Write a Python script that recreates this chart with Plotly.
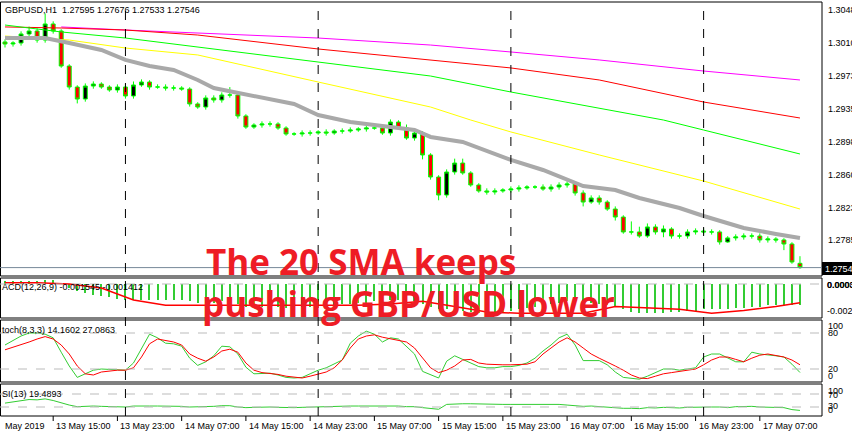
import plotly.graph_objects as go

W, H = 852, 437

# ---------------- data ----------------
idx = list(range(100))
closes = [1.30093,1.30104,1.30207,1.30241,1.30138,1.30321,1.30241,1.29842,1.29603,1.29466,
          1.29614,1.29637,1.29603,1.29569,1.29603,1.29501,1.29626,1.29660,1.29603,1.29603,
          1.29592,1.29592,1.29580,1.29410,1.29375,1.29478,1.29455,1.29512,1.29512,1.29273,
          1.29147,1.29170,1.29182,1.29182,1.29136,1.29068,1.29068,1.29079,1.29079,1.29091,
          1.29079,1.29102,1.29102,1.29113,1.29125,1.29136,1.29136,1.29079,1.29204,1.29136,
          1.29022,1.29079,1.28829,1.28578,1.28373,1.28635,1.28737,1.28624,1.28487,1.28419,
          1.28407,1.28419,1.28430,1.28441,1.28453,1.28464,1.28464,1.28441,1.28464,1.28487,
          1.28498,1.28396,1.28293,1.28339,1.28293,1.28213,1.28122,1.27952,1.27952,1.27906,
          1.28009,1.27952,1.27986,1.27906,1.27906,1.27952,1.27963,1.27952,1.27952,1.27838,
          1.27884,1.27895,1.27906,1.27906,1.27861,1.27872,1.27861,1.27815,1.27610,1.27546]
first_open = 1.30116
last_open = 1.27595
up_wick = [3,2,3,5,3,12,3,2,2,2, 3,3,2,2,3,3,4,3,2,3, 3,3,2,2,2,3,3,3,9,2,
           2,2,3,3,2,2,2,3,3,2, 3,2,3,3,2,3,3,3,3,2, 4,3,2,2,2,3,5,5,2,2,
           3,3,2,3,3,2,2,3,3,3, 3,2,3,3,3,2,3,2,12,6, 4,3,4,2,3,3,3,3,3,2,
           2,3,3,3,3,3,2,2,2,8]
dn_wick = [4,3,3,3,3,3,3,2,3,5, 3,3,2,2,3,3,3,2,3,2, 3,3,2,3,2,3,3,3,3,3,
           2,2,3,3,2,2,2,3,3,2, 3,2,3,2,2,3,2,2,3,2, 2,3,5,3,6,3,3,2,2,2,
           3,3,2,3,3,2,2,2,3,3, 3,3,5,2,3,2,4,2,3,2, 2,3,6,3,3,3,3,3,3,3,
           1,3,3,3,3,3,3,7,2,1]

sma20_i = [0,5,8,12,15,18,21,24,26,28,32,36,39,43,47,51,53,57,63,67,72,76,79,84,87,92,96,99]
sma20_v = [1.30161,1.30161,1.30104,1.30025,1.29911,1.29842,1.29797,1.29683,1.29592,1.29557,
           1.29478,1.29409,1.29284,1.29204,1.29159,1.29113,1.29034,1.28977,1.28772,1.28658,
           1.28475,1.28430,1.28339,1.28225,1.28134,1.27997,1.27929,1.27884]
yel_i = [0,8,15,24,39,53,58,63,74,87,99]
yel_v = [1.30184,1.30138,1.30047,1.29968,1.29660,1.29375,1.29227,1.29091,1.28829,1.28532,1.28213]
grn_i = [0,7,15,24,39,53,63,74,82,87,99]
grn_v = [1.30309,1.30230,1.30161,1.30059,1.29888,1.29728,1.29546,1.29364,1.29227,1.29113,1.28840]
red_i = [0,7,15,24,39,53,63,74,87,99]
red_v = [1.30287,1.30275,1.30252,1.30195,1.30036,1.29911,1.29820,1.29683,1.29432,1.29250]
mag_i = [7,15,39,53,63,74,87,99]
mag_v = [1.30287,1.30252,1.30161,1.30081,1.30002,1.29911,1.29785,1.29683]

macd_hist = [0.0002,0.0002,0.0002,0.0002,0.0002,0.0003,0.0003,0.0000,-0.0003,-0.0005,
             -0.0007,-0.0008,-0.0009,-0.0010,-0.0011,-0.0012,-0.0012,-0.0012,-0.0012,-0.0012,
             -0.0012,-0.0012,-0.0012,-0.0013,-0.0014,-0.0014,-0.0014,-0.0013,-0.0013,-0.0015,
             -0.0017,-0.0017,-0.0017,-0.0017,-0.0017,-0.0018,-0.0018,-0.0017,-0.0017,-0.0016,
             -0.0016,-0.0016,-0.0015,-0.0015,-0.0014,-0.0014,-0.0013,-0.0013,-0.0012,-0.0012,
             -0.0012,-0.0013,-0.0015,-0.0017,-0.0019,-0.0019,-0.0019,-0.0020,-0.0021,-0.0022,
             -0.0022,-0.0022,-0.0021,-0.0020,-0.0019,-0.0018,-0.0017,-0.0016,-0.0015,-0.0014,
             -0.0013,-0.0013,-0.0014,-0.0014,-0.0015,-0.0016,-0.0017,-0.0019,-0.0021,-0.0022,
             -0.0022,-0.0022,-0.0022,-0.0021,-0.0021,-0.0020,-0.0020,-0.0019,-0.0019,-0.0019,
             -0.0019,-0.0018,-0.0018,-0.0017,-0.0017,-0.0016,-0.0016,-0.0016,-0.0016,-0.001545]
sig_i = [0,4,8,12,16,20,24,28,32,36,40,44,48,52,56,60,64,68,72,76,80,84,88,92,96,99]
sig_v = [0.0001,0.0001,0.0000,-0.0003,-0.0012,-0.0016,-0.0016,-0.0016,-0.0016,-0.0016,
         -0.0016,-0.0016,-0.0015,-0.0013,-0.0017,-0.0021,-0.0022,-0.0022,-0.0022,-0.0017,
         -0.0018,-0.0019,-0.0022,-0.0020,-0.0017,-0.001412]

stoch_main = [60,68,75,80,80,78,72,48,25,6, 12,18,20,19,18,18,30,55,78,72,
              63,62,58,38,26,32,42,58,57,45, 23,12,12,13,10,6,5,6,12,18,
              22,28,35,63,75,83,78,65,72,70, 58,45,16,10,5,33,42,36,30,24,
              22,22,24,24,26,30,38,50,60,72, 78,60,34,34,34,27,15,6,4,3,
              8,14,20,20,18,20,22,40,45,45, 38,32,32,48,45,44,42,40,28,14.16]
stoch_sig = [52,56,60,65,70,74,70,60,45,25, 12,10,15,17,18,18,22,40,62,70,
             68,65,60,45,38,33,40,50,53,48, 30,18,14,13,11,8,6,5,8,12,
             15,22,35,55,70,75,77,73,70,68, 65,55,38,22,14,18,25,35,36,30,
             28,27,27,27,27,28,32,45,55,65, 72,65,55,45,38,32,25,18,10,5,
             4,8,12,14,16,18,20,27,35,40, 40,36,32,38,43,45,42,40,35,27.09]
rsi = [42,45,50,53,52,55,50,42,36,31, 33,33,32,31,32,30,33,34,33,33,
       33,33,32,30,30,32,32,34,34,30, 28,29,30,30,29,28,28,29,30,31,
       32,32,32,33,33,33,33,32,34,33, 31,31,28,25,23,38,40,40,40,39,
       38,38,38,38,38,38,40,40,40,38, 36,34,32,33,31,30,28,26,26,25,
       28,27,29,27,27,29,30,30,30,30, 28,31,32,32,30,30,30,28,22,19.49]

price_ticks = [1.30480,1.30105,1.29730,1.29355,1.28980,1.28605,1.28230,1.27855]
time_tick_i = [6,14,22,30,38,46,54,62,70,78,86,94]
time_tick_lbl = ["13 May 15:00","13 May 23:00","14 May 07:00","14 May 15:00","14 May 23:00",
                 "15 May 07:00","15 May 15:00","15 May 23:00","16 May 07:00","16 May 15:00",
                 "16 May 23:00","17 May 07:00"]
day_sep_i = [15,39,63,87]

opens = [first_open] + closes[:-1]
opens[-1] = last_open
highs = [max(o, c) + u * 0.0001 for o, c, u in zip(opens, closes, up_wick)]
lows = [min(o, c) - d * 0.0001 for o, c, d in zip(opens, closes, dn_wick)]
highs[-1], lows[-1] = 1.27676, 1.27533

# ---------------- layout helpers ----------------
XR = 822 / W
def py(y): return 1 - y / H
def px(x): return x / W

FONT = "Liberation Sans"
fig = go.Figure()

fig.add_trace(go.Candlestick(
    x=idx, open=opens, high=highs, low=lows, close=closes, xaxis="x", yaxis="y",
    increasing=dict(line=dict(color="#00ff00", width=1), fillcolor="black"),
    decreasing=dict(line=dict(color="#00ff00", width=1), fillcolor="#ff0000"),
    whiskerwidth=0, showlegend=False, hoverinfo="skip"))
for xi, yv, col, w in [(mag_i, mag_v, "#ff00ff", 1), (red_i, red_v, "#ff0000", 1),
                       (grn_i, grn_v, "#00ff00", 1), (yel_i, yel_v, "#ffff00", 1),
                       (sma20_i, sma20_v, "#a9a9a9", 4)]:
    fig.add_trace(go.Scatter(x=xi, y=yv, mode="lines", line=dict(color=col, width=w),
                             xaxis="x", yaxis="y", showlegend=False, hoverinfo="skip"))

fig.add_trace(go.Bar(x=idx, y=macd_hist, width=0.14, marker=dict(color="#33cc33", line=dict(width=0)),
                     xaxis="x", yaxis="y2", showlegend=False, hoverinfo="skip"))
fig.add_trace(go.Scatter(x=sig_i, y=sig_v, mode="lines", line=dict(color="#ff0000", width=1.5),
                         xaxis="x", yaxis="y2", showlegend=False, hoverinfo="skip"))
fig.add_trace(go.Scatter(x=idx, y=stoch_main, mode="lines", line=dict(color="#32cd32", width=1),
                         xaxis="x", yaxis="y3", showlegend=False, hoverinfo="skip"))
fig.add_trace(go.Scatter(x=idx, y=stoch_sig, mode="lines", line=dict(color="#ff0000", width=1),
                         xaxis="x", yaxis="y3", showlegend=False, hoverinfo="skip"))
fig.add_trace(go.Scatter(x=idx, y=rsi, mode="lines", line=dict(color="#32cd32", width=1),
                         xaxis="x", yaxis="y4", showlegend=False, hoverinfo="skip"))

step = 8.03
x0 = -5 / step
x1 = (822 - 5) / step
def ix(i): return px(5 + step * i)

shapes = []
for top, bot in [(2, 276), (278, 318), (320, 382), (384, 416)]:
    shapes.append(dict(type="rect", xref="paper", yref="paper", x0=px(0.5), x1=XR,
                       y0=py(bot), y1=py(top), line=dict(color="black", width=1)))
for yr, v in [("y2", 0), ("y3", 80), ("y3", 20), ("y4", 70), ("y4", 30)]:
    shapes.append(dict(type="line", xref="x", yref=yr, x0=x0, x1=x1, y0=v, y1=v,
                       line=dict(color="#bbbbbb", width=1, dash="dash")))
shapes.append(dict(type="line", xref="x", yref="y", x0=x0, x1=x1, y0=closes[-1], y1=closes[-1],
                   line=dict(color="#778899", width=1)))
for i in day_sep_i:
    shapes.append(dict(type="line", xref="paper", yref="paper", x0=ix(i), x1=ix(i),
                       y0=py(416), y1=py(2), line=dict(color="black", width=1, dash="dash")))
for i in time_tick_i:
    shapes.append(dict(type="line", xref="paper", yref="paper", x0=ix(i), x1=ix(i),
                       y0=py(421), y1=py(416), line=dict(color="black", width=1)))
shapes.append(dict(type="rect", xref="paper", yref="paper", x0=px(822), x1=px(852),
                   y0=py(275), y1=py(262), fillcolor="black", line=dict(width=0)))

ann = []
def text(x, y, s, size=9, color="black", anchor="left", bold=False, fam=FONT):
    ann.append(dict(xref="paper", yref="paper", x=px(x), y=py(y), text=s, showarrow=False,
                    xanchor=anchor, yanchor="middle",
                    font=dict(family=fam, size=size, color=color, weight=700 if bold else 400)))

text(3, 10, "GBPUSD,H1  1.27595 1.27676 1.27533 1.27546", 9)
text(0, 287, "ACD(12,26,9) -0.001545 -0.001412", 9)
text(0, 330, "toch(8,3,3) 14.1602 27.0863", 9)
text(0, 394, "SI(13) 19.4893", 9)
for p in price_ticks:
    yp = (1.30594 - p) / 0.0001139
    text(826, yp, f"{p:.5f}", 9)
text(823, 268.5, f"{closes[-1]:.5f}", 9, color="white")
text(825, 285, "0.00032", 9, bold=True)
text(825, 285, "0.00000", 9)
text(825, 311, "-0.00231", 9)
text(826, 326, "100", 9); text(826, 333, "80", 9); text(826, 369, "20", 9); text(826, 376, "0", 9)
text(826, 391, "100", 9); text(826, 395, "70", 9); text(826, 406, "30", 9); text(826, 410, "0", 9)
text(3, 426, "May 2019", 9)
for i, s in zip(time_tick_i, time_tick_lbl):
    text(5 + step * i + 1, 426, s, 9)

text(361, 261, "The 20 SMA keeps", 35, color="#ee1c25", anchor="center", bold=True, fam="Open Sans")
text(408, 303, "pushing GBP/USD lower", 35, color="#ee1c25", anchor="center", bold=True, fam="Open Sans")

ax_common = dict(showgrid=False, zeroline=False, showticklabels=False, ticks="", showline=False, fixedrange=True)
fig.update_layout(
    width=W, height=H, margin=dict(l=0, r=0, t=0, b=0),
    paper_bgcolor="white", plot_bgcolor="white",
    xaxis=dict(domain=[0, XR], range=[x0, x1], anchor="y4", rangeslider=dict(visible=False), **ax_common),
    yaxis=dict(domain=[py(276), py(2)], range=[1.30594 - 0.0001139 * 276, 1.30594 - 0.0001139 * 2], anchor="x", **ax_common),
    yaxis2=dict(domain=[py(318), py(278)], range=[-(318 - 284) / 13300, (284 - 278) / 13300], anchor="x", **ax_common),
    yaxis3=dict(domain=[py(382), py(320)], range=[20 - 13 / 0.6, 80 + 13 / 0.6], anchor="x", **ax_common),
    yaxis4=dict(domain=[py(416), py(384)], range=[30 - 9 / 0.325, 70 + 10 / 0.325], anchor="x", **ax_common),
    shapes=shapes, annotations=ann, bargap=0,
)
fig.write_html("out.html", config={"displayModeBar": False},
               post_script="document.body.style.margin='0';document.body.style.overflow='hidden';")
